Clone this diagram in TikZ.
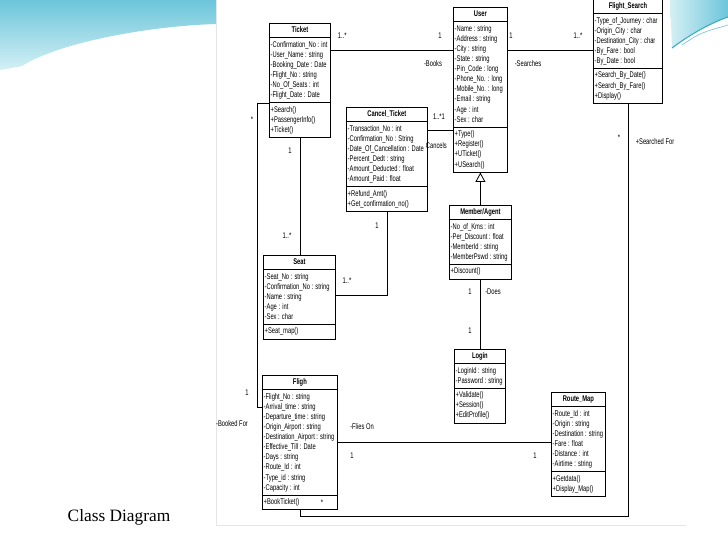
\documentclass[tikz,border=0pt]{standalone}
\usepackage{fontspec}
\newfontfamily\umlfont[FakeStretch=0.7]{Liberation Sans}
\newfontfamily\slidefont{Liberation Serif}
\newcommand\umlsize{\fontsize{6.2pt}{7.6pt}\selectfont}
\newcommand\rows[1]{\begin{tabular}{@{}l@{}}#1\end{tabular}}
\definecolor{slCyan}{HTML}{6CC5DA}
\definecolor{slPale}{HTML}{D4F0F5}
\definecolor{slTeal}{HTML}{3FA9C2}
\usetikzlibrary{arrows.meta,positioning,shapes.multipart}

\begin{document}
\begin{tikzpicture}[x=0.75pt,y=-0.75pt,
  cls/.style={rectangle split,rectangle split parts=3,draw=black,line width=0.6pt,
              rectangle split part align={center,left,left},inner xsep=1pt,inner ysep=1.3pt,
              anchor=north west,font=\umlfont\umlsize,fill=white},
  cw/.style={minimum width=#1*0.75pt},
  lbl/.style={font=\umlfont\umlsize,inner sep=0.5pt},
  assoc/.style={draw=black,line width=0.6pt},
  gen/.style={assoc,-{Triangle[open,length=7pt,width=7.5pt]}}
]
\useasboundingbox (0,0) rectangle (728,546);
% slide swooshes
\shade[top color=slCyan,bottom color=slPale] (0,0) -- (216,0) -- (216,24)
  .. controls (150,26) and (60,42) .. (22,66) -- (0,70) -- cycle;
\draw[white,line width=1.2pt] (40,60) .. controls (90,40) and (150,32) .. (216,30);
\draw[white,line width=0.6pt] (70,54) .. controls (120,40) .. (216,37);
\shade[left color=slPale,right color=slCyan] (670,0) -- (728,0) -- (728,17)
  .. controls (708,24) and (688,36) .. (672,48) -- cycle;
\draw[slTeal,line width=0.8pt] (672,48) .. controls (688,36) and (708,24) .. (728,17);
\draw[slTeal!60,line width=0.6pt] (682,45) .. controls (700,33) .. (728,25);
\draw[black!10,line width=0.5pt] (216,-2) -- (216,525) -- (686,525);
% classes
\node[cls,cw=61] (ticket) at (269,23) {\rows{\textbf{Ticket}}
  \nodepart{two}\rows{-Confirmation\_No : int\\-User\_Name : string\\-Booking\_Date : Date\\
    -Flight\_No : string\\-No\_Of\_Seats : int\\-Flight\_Date : Date}
  \nodepart{three}\rows{+Search()\\+PassengerInfo()\\+Ticket()}};
\node[cls,cw=54] (user) at (453,7) {\rows{\textbf{User}}
  \nodepart{two}\rows{-Name : string\\-Address : string\\-City : string\\-State : string\\
    -Pin\_Code : long\\-Phone\_No. : long\\-Mobile\_No. : long\\-Email : string\\-Age : int\\-Sex : char}
  \nodepart{three}\rows{+Type()\\+Register()\\+UTicket()\\+USearch()}};
\node[cls,cw=69] (fsearch) at (593,-1) {\rows{\textbf{Flight\_Search}}
  \nodepart{two}\rows{-Type\_of\_Journey : char\\-Origin\_City : char\\-Destination\_City : char\\
    -By\_Fare : bool\\-By\_Date : bool}
  \nodepart{three}\rows{+Search\_By\_Date()\\+Search\_By\_Fare()\\+Display()}};
\node[cls,cw=81] (cancel) at (346,107) {\rows{\textbf{Cancel\_Ticket}}
  \nodepart{two}\rows{-Transaction\_No : int\\-Confirmation\_No : String\\-Date\_Of\_Cancellation : Date\\
    -Percent\_Dedt : string\\-Amount\_Deducted : float\\-Amount\_Paid : float}
  \nodepart{three}\rows{+Refund\_Amt()\\+Get\_confirmation\_no()}};
\node[cls,cw=72] (seat) at (263,255) {\rows{\textbf{Seat}}
  \nodepart{two}\rows{-Seat\_No : string\\-Confirmation\_No : string\\-Name : string\\-Age : int\\-Sex : char}
  \nodepart{three}\rows{+Seat\_map()}};
\node[cls,cw=62] (member) at (449,205) {\rows{\textbf{Member/Agent}}
  \nodepart{two}\rows{-No\_of\_Kms : int\\-Per\_Discount : float\\-MemberId : string\\-MemberPswd : string}
  \nodepart{three}\rows{+Discount()}};
\node[cls,cw=51] (login) at (454,349) {\rows{\textbf{Login}}
  \nodepart{two}\rows{-LoginId : string\\-Password : string}
  \nodepart{three}\rows{+Validate()\\+Session()\\+EditProfile()}};
\node[cls,cw=75] (flight) at (262,375) {\rows{\textbf{Fligh}}
  \nodepart{two}\rows{-Flight\_No : string\\-Arrival\_time : string\\-Departure\_time : string\\
    -Origin\_Airport : string\\-Destination\_Airport : string\\-Effective\_Till : Date\\
    -Days : string\\-Route\_Id : int\\-Type\_id : string\\-Capacity : int}
  \nodepart{three}\rows{+BookTicket()}};
\node[cls,cw=54] (route) at (551,392) {\rows{\textbf{Route\_Map}}
  \nodepart{two}\rows{-Route\_Id : int\\-Origin : string\\-Destination : string\\-Fare : float\\
    -Distance : int\\-Airtime : string}
  \nodepart{three}\rows{+Getdata()\\+Display\_Map()}};
% associations
\draw[assoc] (ticket.east |- 0,50) -- (user.west |- 0,50);
\draw[assoc] (user.east |- 0,50) -- (fsearch.west |- 0,50);
\draw[assoc] (cancel.east |- 0,130) -- (user.west |- 0,130);
\draw[assoc] (ticket.south) -- (ticket.south |- seat.north);
\draw[assoc] (cancel.south) |- (seat.east |- 0,295);
\draw[gen] (member.north) -- (member.north |- user.south);
\draw[assoc] (member.south) -- (member.south |- login.north);
\coordinate (lft) at (257,0);
\draw[assoc] (ticket.west |- 0,103) -| (lft |- 0,407) -- (flight.west |- 0,407);
\draw[assoc] (flight.east |- 0,442) -- (route.west |- 0,442);
\draw[assoc] (fsearch.south) |- (0,516 -| flight.south) -- (flight.south);
% multiplicities and roles
\node[lbl,anchor=west] (tu1) at (337,36) {1..*};
\node[lbl] (tu2) at (440,36) {1};
\node[lbl] (books) at (433,64) {-Books};
\node[lbl] (us1) at (511,36) {1};
\node[lbl] (us2) at (578,36) {1..*};
\node[lbl] (searches) at (528,64) {-Searches};
\node[lbl] (cu1) at (439,117) {1..*1};
\node[lbl,anchor=west] (cancels) at (425,146) {Cancels};
\node[lbl] (ts1) at (290,151) {1};
\node[lbl] (ts2) at (287,236) {1..*};
\node[lbl] (cs1) at (377,226) {1};
\node[lbl] (cs2) at (347,281) {1..*};
\node[lbl] (ml1) at (470,292) {1};
\node[lbl] (does) at (493,292) {-Does};
\node[lbl] (ml2) at (470,331) {1};
\node[lbl] (tf1) at (252,120) {*};
\node[lbl] (tf2) at (247,393) {1};
\node[lbl] (booked) at (232,424) {-Booked For};
\node[lbl] (flies) at (362,427) {-Flies On};
\node[lbl] (fr1) at (352,456) {1};
\node[lbl] (fr2) at (535,456) {1};
\node[lbl] (sf1) at (619,138) {*};
\node[lbl] (searched) at (655,142) {+Searched For};
\node[lbl] (sf2) at (322,503) {*};
% slide caption
\node[font=\slidefont\fontsize{13pt}{15pt}\selectfont] (caption) at (119,517) {Class Diagram};
\end{tikzpicture}
\end{document}
